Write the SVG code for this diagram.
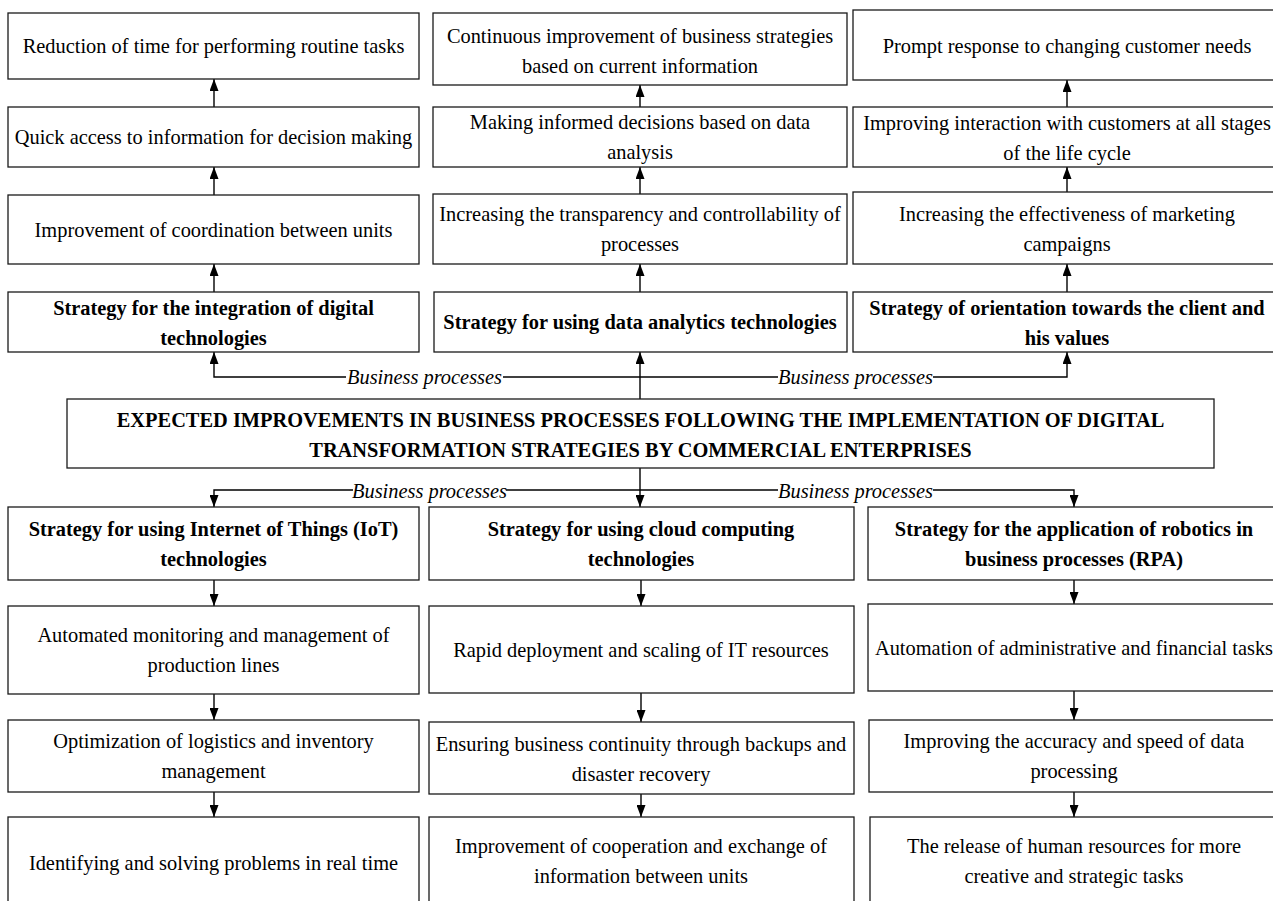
<svg xmlns="http://www.w3.org/2000/svg" width="1273" height="901" viewBox="0 0 1273 901">
<style>
.box{fill:#fff;stroke:#1a1a1a;stroke-width:1.3}
.t{font-family:"Liberation Serif","Times New Roman",serif;font-size:20.4px;text-anchor:middle;fill:#000}
.b{font-weight:bold}
.i{font-style:italic}
.c{stroke:#000;stroke-width:1.4;fill:none}
.a{marker-end:url(#ah)}
</style>
<defs>
<marker id="ah" markerUnits="userSpaceOnUse" markerWidth="12" markerHeight="9" refX="12" refY="4.5" orient="auto">
<path d="M0,0 L12,4.5 L0,9 z" fill="#000"/>
</marker>
</defs>
<rect width="1273" height="901" fill="#fff"/>

<g id="connectors">
<path class="c a" d="M214,107 V79"/>
<path class="c a" d="M214,195 V167"/>
<path class="c a" d="M214,292 V264"/>
<path class="c a" d="M640,107 V85"/>
<path class="c a" d="M640,194 V167"/>
<path class="c a" d="M640,292 V264"/>
<path class="c a" d="M1067,107 V80"/>
<path class="c a" d="M1067,192 V167"/>
<path class="c a" d="M1067,292 V264"/>
<path class="c a" d="M346,377 H214 V352"/>
<path class="c" d="M503,377 H778"/>
<path class="c a" d="M933,377 H1067 V352"/>
<path class="c a" d="M640,399 V352"/>
<path class="c a" d="M353,490 H214 V507"/>
<path class="c" d="M506,490 H778"/>
<path class="c a" d="M933,490 H1074 V507"/>
<path class="c a" d="M640,468 V507"/>
<path class="c a" d="M214,580 V606"/>
<path class="c a" d="M214,694 V720"/>
<path class="c a" d="M214,792 V817"/>
<path class="c a" d="M641,580 V606"/>
<path class="c a" d="M641,693 V722"/>
<path class="c a" d="M641,794 V817"/>
<path class="c a" d="M1074,580 V604"/>
<path class="c a" d="M1074,691 V720"/>
<path class="c a" d="M1074,792 V817"/>
<text class="t i" x="424.5" y="384">Business processes</text>
<text class="t i" x="855.5" y="384">Business processes</text>
<text class="t i" x="429.5" y="498">Business processes</text>
<text class="t i" x="855.5" y="498">Business processes</text>
</g>

<g id="n-l1"><rect class="box" x="8" y="13" width="411" height="66"/><text class="t" x="213.5" y="53">Reduction of time for performing routine tasks</text></g>
<g id="n-l2"><rect class="box" x="8" y="107" width="411" height="60"/><text class="t" x="213.5" y="144">Quick access to information for decision making</text></g>
<g id="n-l3"><rect class="box" x="8" y="195" width="411" height="69"/><text class="t" x="213.5" y="236.5">Improvement of coordination between units</text></g>
<g id="n-l4"><rect class="box" x="8" y="292" width="411" height="60"/><text class="t b" x="213.5" y="315">Strategy for the integration of digital</text><text class="t b" x="213.5" y="345">technologies</text></g>

<g id="n-m1"><rect class="box" x="433" y="13" width="414" height="72"/><text class="t" x="640" y="42.5">Continuous improvement of business strategies</text><text class="t" x="640" y="72.5">based on current information</text></g>
<g id="n-m2"><rect class="box" x="433" y="107" width="414" height="60"/><text class="t" x="640" y="129">Making informed decisions based on data</text><text class="t" x="640" y="159">analysis</text></g>
<g id="n-m3"><rect class="box" x="433" y="194" width="414" height="70"/><text class="t" x="640" y="221">Increasing the transparency and controllability of</text><text class="t" x="640" y="251">processes</text></g>
<g id="n-m4"><rect class="box" x="434" y="292" width="413" height="60"/><text class="t b" x="640" y="329">Strategy for using data analytics technologies</text></g>

<g id="n-r1"><rect class="box" x="853" y="10" width="428" height="70"/><text class="t" x="1067" y="52.5">Prompt response to changing customer needs</text></g>
<g id="n-r2"><rect class="box" x="853" y="107" width="428" height="60"/><text class="t" x="1067" y="129.5">Improving interaction with customers at all stages</text><text class="t" x="1067" y="159.5">of the life cycle</text></g>
<g id="n-r3"><rect class="box" x="853" y="192" width="428" height="72"/><text class="t" x="1067" y="221">Increasing the effectiveness of marketing</text><text class="t" x="1067" y="251">campaigns</text></g>
<g id="n-r4"><rect class="box" x="853" y="292" width="428" height="60"/><text class="t b" x="1067" y="315">Strategy of orientation towards the client and</text><text class="t b" x="1067" y="345">his values</text></g>

<g id="n-title"><rect class="box" x="67" y="399" width="1147" height="69"/><text class="t b" x="640.5" y="427">EXPECTED IMPROVEMENTS IN BUSINESS PROCESSES FOLLOWING THE IMPLEMENTATION OF DIGITAL</text><text class="t b" x="640.5" y="457">TRANSFORMATION STRATEGIES BY COMMERCIAL ENTERPRISES</text></g>

<g id="n-i1"><rect class="box" x="8" y="507" width="411" height="73"/><text class="t b" x="213.5" y="536">Strategy for using Internet of Things (IoT)</text><text class="t b" x="213.5" y="566">technologies</text></g>
<g id="n-i2"><rect class="box" x="8" y="606" width="411" height="88"/><text class="t" x="213.5" y="642">Automated monitoring and management of</text><text class="t" x="213.5" y="672">production lines</text></g>
<g id="n-i3"><rect class="box" x="8" y="720" width="411" height="72"/><text class="t" x="213.5" y="748">Optimization of logistics and inventory</text><text class="t" x="213.5" y="778">management</text></g>
<g id="n-i4"><rect class="box" x="8" y="817" width="411" height="88"/><text class="t" x="213.5" y="870">Identifying and solving problems in real time</text></g>

<g id="n-c1"><rect class="box" x="429" y="507" width="425" height="73"/><text class="t b" x="641" y="536">Strategy for using cloud computing</text><text class="t b" x="641" y="566">technologies</text></g>
<g id="n-c2"><rect class="box" x="429" y="606" width="425" height="87"/><text class="t" x="641" y="656.5">Rapid deployment and scaling of IT resources</text></g>
<g id="n-c3"><rect class="box" x="429" y="722" width="425" height="72"/><text class="t" x="641" y="750.5">Ensuring business continuity through backups and</text><text class="t" x="641" y="780.5">disaster recovery</text></g>
<g id="n-c4"><rect class="box" x="429" y="817" width="425" height="88"/><text class="t" x="641" y="853">Improvement of cooperation and exchange of</text><text class="t" x="641" y="883">information between units</text></g>

<g id="n-p1"><rect class="box" x="868" y="507" width="412" height="73"/><text class="t b" x="1074" y="536">Strategy for the application of robotics in</text><text class="t b" x="1074" y="566">business processes (RPA)</text></g>
<g id="n-p2"><rect class="box" x="868" y="604" width="412" height="87"/><text class="t" x="1074" y="655">Automation of administrative and financial tasks</text></g>
<g id="n-p3"><rect class="box" x="869" y="720" width="411" height="72"/><text class="t" x="1074" y="748">Improving the accuracy and speed of data</text><text class="t" x="1074" y="778">processing</text></g>
<g id="n-p4"><rect class="box" x="870" y="817" width="410" height="88"/><text class="t" x="1074" y="853">The release of human resources for more</text><text class="t" x="1074" y="883">creative and strategic tasks</text></g>
</svg>
